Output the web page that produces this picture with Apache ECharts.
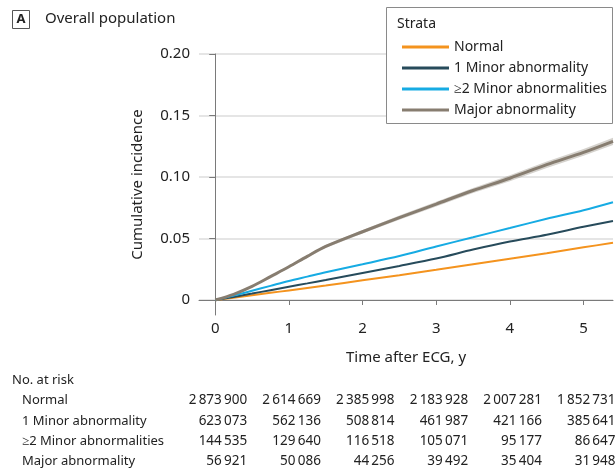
<!DOCTYPE html>
<html>
<head>
<meta charset="utf-8">
<script src="https://cdn.jsdelivr.net/npm/echarts@6/dist/echarts.min.js"></script>
<style>
  html, body { margin: 0; padding: 0; background: #fff; }
  #chart { width: 615px; height: 474px; }
</style>
</head>
<body>
<div id="chart"></div>
<script>
// time (years) and cumulative incidence
const years = [0, 0.25, 0.5, 0.75, 1, 1.25, 1.5, 2, 2.5, 3, 3.5, 4, 4.5, 5, 5.4];
const normal = [0, 0.0018, 0.0038, 0.0058, 0.0078, 0.0098, 0.0118, 0.016, 0.0202, 0.0245, 0.029, 0.0335, 0.038, 0.0428, 0.0465];
const oneMinor = [0, 0.0025, 0.0052, 0.008, 0.0108, 0.0135, 0.0163, 0.022, 0.0277, 0.0337, 0.041, 0.0475, 0.053, 0.0595, 0.0643];
const twoMinor = [0, 0.0036, 0.0075, 0.0115, 0.0155, 0.019, 0.0225, 0.029, 0.0357, 0.0435, 0.051, 0.0585, 0.066, 0.073, 0.0795];
const major = [0, 0.0046, 0.011, 0.019, 0.027, 0.0355, 0.0435, 0.0555, 0.067, 0.078, 0.089, 0.099, 0.11, 0.12, 0.129];
const majorLow = [0, 0.0042, 0.0104, 0.0182, 0.0261, 0.0344, 0.0423, 0.054, 0.0653, 0.0761, 0.0869, 0.0966, 0.1074, 0.1172, 0.126];
const majorHigh = [0, 0.005, 0.0116, 0.0198, 0.0279, 0.0366, 0.0447, 0.057, 0.0687, 0.0799, 0.0911, 0.1014, 0.1126, 0.1228, 0.132];

const strata = ['Normal', '1 Minor abnormality', '≥2 Minor abnormalities', 'Major abnormality'];
const colors = ['#F4931E', '#274B5B', '#16ABE3', '#877D70'];

const xTicks = [0, 1, 2, 3, 4, 5];
const yTicks = [0, 0.05, 0.1, 0.15, 0.2];

// number at risk table
const riskTimes = [0, 1, 2, 3, 4, 5];
const riskNormal = [2873900, 2614669, 2385998, 2183928, 2007281, 1852731];
const riskOneMinor = [623073, 562136, 508814, 461987, 421166, 385641];
const riskTwoMinor = [144535, 129640, 116518, 105071, 95177, 86647];
const riskMajor = [56921, 50086, 44256, 39492, 35404, 31948];

const FONT = 'Noto Sans';

function pairs(ys) {
    return years.map((t, i) => [t, ys[i]]);
}
function fmt(n) {
    // thin space groups like the journal style
    return String(n).replace(/\B(?=(\d{3})+(?!\d))/g, '\u2009');
}

let chart = echarts.init(document.getElementById('chart'));

let series = [
    {
        // confidence band of the major abnormality curve
        name: 'ciBand',
        type: 'custom',
        data: years.map((t, i) => [t, majorLow[i], majorHigh[i]]),
        silent: true,
        z: 1,
        renderItem: function (params, api) {
            if (params.dataIndex !== 0) return;
            let pts = [];
            years.forEach((t, i) => pts.push(api.coord([t, majorHigh[i]])));
            for (let i = years.length - 1; i >= 0; i--) pts.push(api.coord([years[i], majorLow[i]]));
            return {
                type: 'polygon',
                shape: { points: pts },
                style: { fill: 'rgba(135,125,112,0.35)' }
            };
        }
    }
];
const allVals = [normal, oneMinor, twoMinor, major];
strata.forEach((name, i) => {
    series.push({
        name: name,
        type: 'line',
        data: pairs(allVals[i]),
        symbol: 'none',
        smooth: 0.3,
        color: colors[i],
        lineStyle: { width: i == 3 ? 3 : 2, color: colors[i] },
        z: 3
    });
});

let option = {
    animation: false,
    textStyle: { fontFamily: FONT },
    grid: { left: 199, right: 2, top: 54, bottom: 159 },
    xAxis: {
        type: 'value',
        min: -0.22,
        max: 5.4,
        name: 'Time after ECG, y',
        nameLocation: 'middle',
        nameGap: 35,
        nameTextStyle: { fontSize: 15, color: '#222', fontFamily: FONT },
        axisLine: { show: true, lineStyle: { color: '#7a7a7a', width: 1 } },
        axisTick: { show: true, length: 5, customValues: xTicks, lineStyle: { color: '#7a7a7a' } },
        axisLabel: { customValues: xTicks, fontSize: 15, color: '#222', margin: 6 },
        splitLine: { show: false }
    },
    yAxis: {
        type: 'value',
        min: -0.0122,
        max: 0.2,
        name: 'Cumulative incidence',
        nameLocation: 'middle',
        nameGap: 54,
        nameTextStyle: { fontSize: 15, color: '#222', fontFamily: FONT },
        axisLine: { show: true, lineStyle: { color: '#7a7a7a', width: 1 } },
        axisTick: { show: true, length: 6, customValues: yTicks, lineStyle: { color: '#7a7a7a' } },
        axisLabel: {
            customValues: yTicks,
            fontSize: 15,
            color: '#222',
            margin: 9,
            formatter: v => (v === 0 ? '0' : v.toFixed(2))
        },
        splitLine: { show: true, lineStyle: { color: '#dcdcdc', width: 1.5 } }
    },
    legend: {
        data: strata,
        orient: 'vertical',
        left: 397,
        top: 35,
        itemWidth: 47,
        itemHeight: 3,
        itemGap: 7,
        icon: 'rect',
        z: 20,
        textStyle: { fontSize: 14, color: '#222', fontFamily: FONT }
    },
    series: series
};
chart.setOption(option, true);

// legend frame, title box and the at-risk table
let g = [
    {
        type: 'rect', z: 10,
        shape: { x: 386.5, y: 7.5, width: 226, height: 116 },
        style: { fill: '#fff', stroke: '#8a8a8a', lineWidth: 1 }
    },
    {
        type: 'text', z: 20, x: 397, y: 24,
        style: { text: 'Strata', font: '14px "' + FONT + '"', fill: '#222', verticalAlign: 'middle' }
    },
    {
        type: 'rect', z: 10,
        shape: { x: 12.5, y: 10.5, width: 17, height: 18 },
        style: { fill: '#fff', stroke: '#555', lineWidth: 1 }
    },
    {
        type: 'text', z: 20, x: 21, y: 19.5,
        style: { text: 'A', font: 'bold 13px "' + FONT + '"', fill: '#222', align: 'center', verticalAlign: 'middle' }
    },
    {
        type: 'text', z: 20, x: 45, y: 19,
        style: { text: 'Overall population', font: '15px "' + FONT + '"', fill: '#222', verticalAlign: 'middle' }
    },
    {
        type: 'text', z: 20, x: 12, y: 380,
        style: { text: 'No. at risk', font: '13px "' + FONT + '"', fill: '#222', verticalAlign: 'middle' }
    }
];
const riskRows = [riskNormal, riskOneMinor, riskTwoMinor, riskMajor];
const rowY = [400, 421, 441, 461];
riskRows.forEach((row, r) => {
    g.push({
        type: 'text', z: 20, x: 22, y: rowY[r],
        style: { text: strata[r], font: '13px "' + FONT + '"', fill: '#222', verticalAlign: 'middle' }
    });
    row.forEach((n, c) => {
        let px = chart.convertToPixel({ xAxisIndex: 0 }, riskTimes[c]);
        g.push({
            type: 'text', z: 20, x: px + 32, y: rowY[r],
            style: { text: fmt(n), font: '13.5px "' + FONT + '"', fill: '#222', align: 'right', verticalAlign: 'middle' }
        });
    });
});
chart.setOption({ graphic: g });

window.addEventListener('resize', function () {
    chart.resize();
});
</script>
</body>
</html>
